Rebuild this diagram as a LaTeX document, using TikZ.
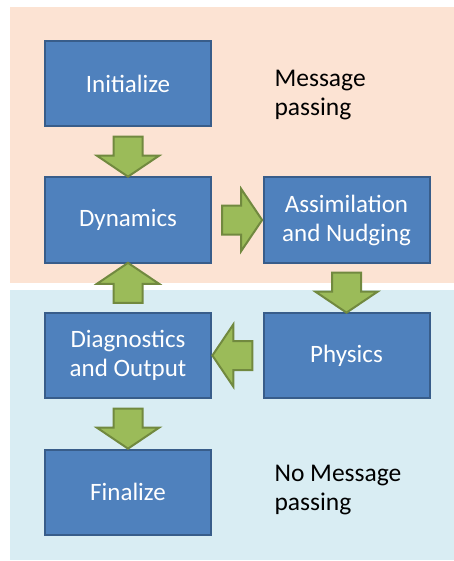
\documentclass[tikz,border=0pt]{standalone}
\usepackage{fontspec}
\setmainfont{Carlito}
\usetikzlibrary{shapes.arrows}

\definecolor{boxfill}{HTML}{4F81BD}
\definecolor{boxline}{HTML}{385D8A}
\definecolor{arrfill}{HTML}{9BBB59}
\definecolor{arrline}{HTML}{71893F}
\definecolor{peach}{HTML}{FCE3D3}
\definecolor{skyblue}{HTML}{D9EDF3}

\tikzset{
  stage/.style={rectangle, draw=boxline, fill=boxfill, line width=2pt,
    minimum width=166pt, minimum height=85pt, inner sep=0pt, align=center,
    text=white, font=\fontsize{25}{29}\selectfont},
  blockarrow/.style={single arrow, draw=arrline, fill=arrfill, line width=2pt,
    minimum height=40pt, inner xsep=0pt, inner ysep=13.5pt,
    single arrow head extend=16.5pt, single arrow tip angle=112},
  remark/.style={anchor=west, align=left, font=\fontsize{25.5}{29}\selectfont}
}

\begin{document}
\begin{tikzpicture}[x=1pt, y=-1pt]
\useasboundingbox (0, 0) rectangle (454, 561);
\fill[peach] (10, 7) rectangle (454, 283);
\fill[skyblue] (10, 290) rectangle (454, 560);

\path (128, 83.5) node[stage] (init) {Initialize}
	  (128, 220) node[stage] (dyn) {Dynamics}
	  (346.5, 220) node[stage] (asm) {Assimilation\\and Nudging}
	  (346.5, 355.5) node[stage] (phys) {Physics}
	  (128, 355.5) node[stage] (diag) {Diagnostics\\and Output}
	  (128, 492) node[stage] (fin) {Finalize}

	  (271, 95) node[remark] (mp) {Message\\passing}
	  (271, 490) node[remark] (nomp) {No Message\\passing};

\path (init.south) -- node[blockarrow, rotate=-90] {} (dyn.north);
\path (dyn.east) -- node[blockarrow] {} (asm.west);
\path (asm.south) -- node[blockarrow, rotate=-90] {} (phys.north);
\path (phys.west) -- node[blockarrow, rotate=180] {} (diag.east);
\path (diag.north) -- node[blockarrow, rotate=90] {} (dyn.south);
\path (diag.south) -- node[blockarrow, rotate=-90] {} (fin.north);
\end{tikzpicture}
\end{document}
